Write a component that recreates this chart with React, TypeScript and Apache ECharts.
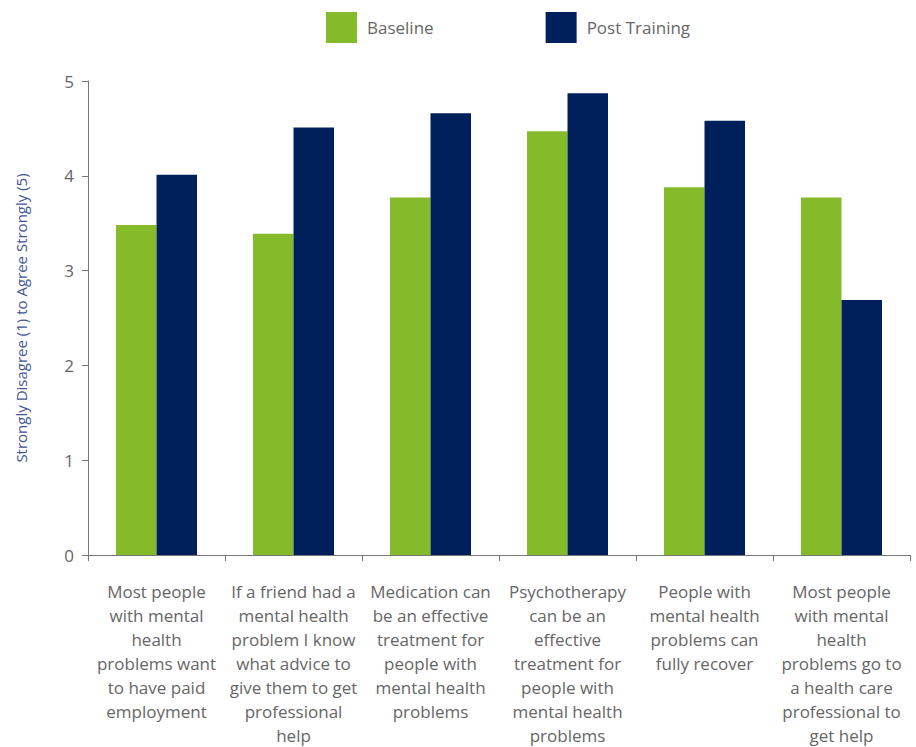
import React, { useEffect, useRef } from "react";
import * as echarts from "echarts";

const categories = [
  "Most people\nwith mental\nhealth\nproblems want\nto have paid\nemployment",
  "If a friend had a\nmental health\nproblem I know\nwhat advice to\ngive them to get\nprofessional\nhelp",
  "Medication can\nbe an effective\ntreatment for\npeople with\nmental health\nproblems",
  "Psychotherapy\ncan be an\neffective\ntreatment for\npeople with\nmental health\nproblems",
  "People with\nmental health\nproblems can\nfully recover",
  "Most people\nwith mental\nhealth\nproblems go to\na health care\nprofessional to\nget help",
];
const baseline = [3.48, 3.39, 3.77, 4.47, 3.88, 3.77];
const postTraining = [4.01, 4.51, 4.66, 4.87, 4.58, 2.69];
const yTicks = [0, 1, 2, 3, 4, 5];

const FONT = "'Open Sans', sans-serif";

export default function App() {
  const ref = useRef<HTMLDivElement>(null);
  useEffect(() => {
    if (!ref.current) return;
    const chart = echarts.init(ref.current, null, { renderer: "svg" });
    chart.setOption({
      animation: false,
      textStyle: { fontFamily: FONT },
      legend: {
        left: 321,
        top: 7,
        icon: "rect",
        itemWidth: 31,
        itemHeight: 31,
        itemGap: 112,
        textStyle: { fontSize: 17, color: "#666", fontFamily: FONT, padding: [0, 0, 0, 5] },
        data: ["Baseline", "Post Training"],
      },
      grid: { left: 88, right: 6, top: 81, bottom: 190 },
      xAxis: {
        type: "category",
        data: categories,
        axisLine: { lineStyle: { color: "#777", width: 1 } },
        axisTick: { show: true, length: 6, lineStyle: { color: "#777" } },
        axisLabel: {
          interval: 0,
          fontSize: 17,
          lineHeight: 24,
          color: "#666",
          margin: 24,
          fontFamily: FONT,
          align: "center",
        },
      },
      yAxis: {
        type: "value",
        min: yTicks[0],
        max: yTicks[yTicks.length - 1],
        interval: 1,
        name: "Strongly Disagree (1) to Agree Strongly (5)",
        nameLocation: "middle",
        nameGap: 60,
        nameTextStyle: { fontSize: 15, color: "#3f5596", fontFamily: FONT },
        axisLine: { show: true, lineStyle: { color: "#777", width: 1 } },
        axisTick: { show: true, length: 6, lineStyle: { color: "#777" } },
        splitLine: { show: false },
        axisLabel: { fontSize: 17, color: "#666", margin: 14, fontFamily: FONT },
      },
      series: [
        {
          name: "Baseline",
          type: "bar",
          data: baseline,
          barWidth: 40.5,
          barGap: "0%",
          itemStyle: { color: "#85BA2A" },
        },
        {
          name: "Post Training",
          type: "bar",
          data: postTraining,
          barWidth: 40.5,
          barGap: "0%",
          itemStyle: { color: "#00205B" },
        },
      ],
    });
    return () => chart.dispose();
  }, []);
  return (
    <div
      ref={ref}
      style={{ position: "absolute", left: 0, top: 0, width: 916, height: 747 }}
    />
  );
}
